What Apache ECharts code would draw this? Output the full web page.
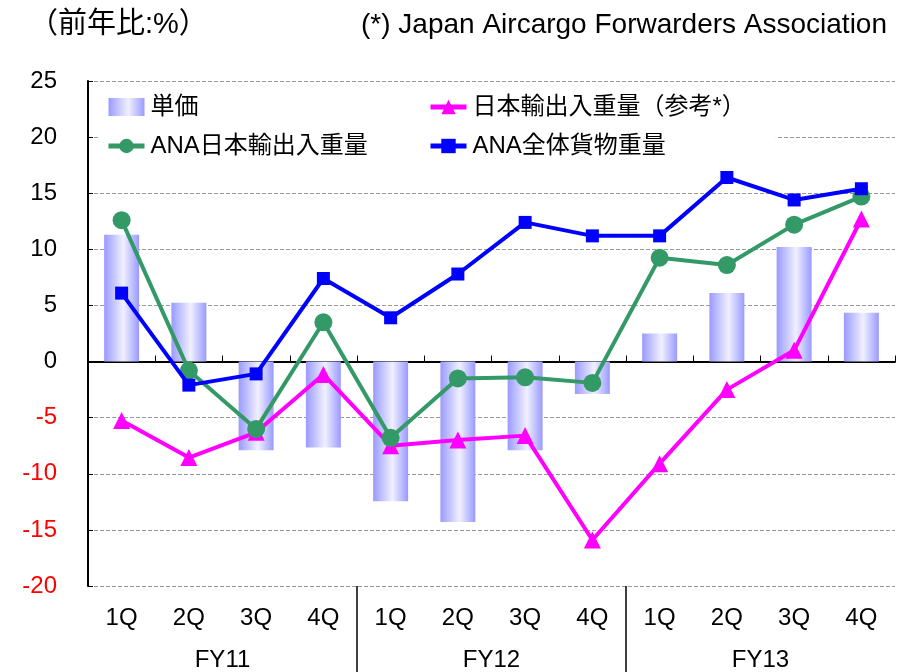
<!DOCTYPE html>
<html>
<head>
<meta charset="utf-8">
<script src="https://cdn.jsdelivr.net/npm/echarts@6/dist/echarts.min.js"></script>
<style>
html, body { margin: 0; padding: 0; background: #fff; }
#main { width: 908px; height: 672px; }
</style>
</head>
<body>
<div id="main"></div>
<script>
let quarters = ['1Q', '2Q', '3Q', '4Q', '1Q', '2Q', '3Q', '4Q', '1Q', '2Q', '3Q', '4Q'];
let years = ['FY11', 'FY12', 'FY13'];
// boundaries between fiscal years, only used for the separator ticks
let yearEdges = ['start', 'FY11|FY12', 'FY12|FY13', 'end'];
let unitPrice = [11.3, 5.25, -7.9, -7.65, -12.45, -14.3, -7.9, -2.9, 2.5, 6.1, 10.2, 4.35];
let japanWeight = [-5.25, -8.55, -6.3, -1.15, -7.5, -7.0, -6.6, -15.9, -9.1, -2.5, 1.0, 12.7];
let anaJapanWeight = [12.6, -0.8, -6.0, 3.5, -6.8, -1.5, -1.4, -1.9, 9.25, 8.6, 12.2, 14.7];
let anaTotalWeight = [6.1, -2.1, -1.1, 7.4, 3.9, 7.8, 12.4, 11.2, 11.2, 16.4, 14.4, 15.4];

let font = '"Liberation Sans", Arial, "Noto Sans CJK JP", sans-serif';
let myChart = echarts.init(document.getElementById('main'));

let barColor = new echarts.graphic.LinearGradient(0, 0, 1, 0, [
    { offset: 0, color: '#9a9aff' },
    { offset: 0.55, color: '#f0f0ff' },
    { offset: 1, color: '#9a9aff' }
]);

let legendBase = {
    orient: 'vertical',
    top: 91,
    itemGap: 15,
    itemWidth: 36, itemHeight: 18,
    backgroundColor: '#fff',
    lineStyle: { width: 5 },
    textStyle: { fontSize: 24, color: '#000', fontFamily: font, padding: [0, 0, 0, 1] }
};

let option = {
    animation: false,
    textStyle: { fontFamily: font },
    title: [
        {
            text: '（前年比:%）',
            left: 24, top: 5,
            textStyle: { fontSize: 29, fontWeight: 'normal', color: '#000', fontFamily: font }
        },
        {
            text: '(*) Japan Aircargo Forwarders Association',
            right: 16, top: 6,
            textStyle: { fontSize: 28, fontWeight: 'normal', color: '#000', fontFamily: font }
        }
    ],
    legend: [
        Object.assign({}, legendBase, {
            left: 100,
            padding: [4, 60, 4, 6],
            data: [
                { name: '単価', icon: 'rect', itemStyle: { color: barColor } },
                { name: 'ANA日本輸出入重量' }
            ]
        }),
        Object.assign({}, legendBase, {
            left: 420,
            padding: [4, 30, 4, 8],
            data: ['日本輸出入重量（参考*）', 'ANA全体貨物重量']
        })
    ],
    grid: { left: 88, right: 13, top: 81, bottom: 85, containLabel: false },
    xAxis: [
        {
            type: 'category',
            data: quarters,
            axisLine: { onZero: true, lineStyle: { color: '#000', width: 2 } },
            axisTick: { show: true, inside: true, length: 6, lineStyle: { color: '#000' } },
            axisLabel: { show: false }
        },
        {
            type: 'category',
            data: quarters,
            position: 'bottom',
            axisLine: { show: false, onZero: false },
            axisTick: { show: false },
            axisLabel: { fontSize: 24, color: '#000', margin: 20, fontFamily: font }
        },
        {
            type: 'category',
            data: years,
            position: 'bottom',
            axisLine: { show: false, onZero: false },
            axisTick: { show: false },
            axisLabel: { fontSize: 24, color: '#000', margin: 62, fontFamily: font }
        },
        {
            type: 'category',
            data: yearEdges,
            boundaryGap: false,
            position: 'bottom',
            axisLine: { show: false, onZero: false },
            axisTick: {
                show: true, length: 90,
                interval: function (index) { return index === 1 || index === 2; },
                lineStyle: { color: '#000', width: 1.5 }
            },
            axisLabel: { show: false }
        }
    ],
    yAxis: {
        type: 'value',
        min: -20, max: 25, interval: 5,
        axisLine: { show: true, lineStyle: { color: '#000', width: 2 } },
        axisTick: { show: true, inside: true, length: 5, lineStyle: { color: '#000' } },
        axisLabel: {
            fontSize: 24, margin: 31, fontFamily: font,
            color: function (v) { return v < 0 ? '#ff0000' : '#000'; }
        },
        splitLine: { lineStyle: { color: '#999', type: [4, 2], width: 1 } }
    },
    series: [
        {
            name: '単価',
            type: 'bar',
            data: unitPrice,
            barWidth: '52%',
            itemStyle: { color: barColor },
            z: 1
        },
        {
            name: '日本輸出入重量（参考*）',
            type: 'line',
            data: japanWeight,
            symbol: 'triangle',
            symbolSize: 17,
            lineStyle: { color: '#ff00ff', width: 4 },
            itemStyle: { color: '#ff00ff' },
            z: 3
        },
        {
            name: 'ANA日本輸出入重量',
            type: 'line',
            data: anaJapanWeight,
            symbol: 'circle',
            symbolSize: 18,
            lineStyle: { color: '#339966', width: 4 },
            itemStyle: { color: '#339966' },
            z: 4
        },
        {
            name: 'ANA全体貨物重量',
            type: 'line',
            data: anaTotalWeight,
            symbol: 'rect',
            symbolSize: 13,
            lineStyle: { color: '#0000ff', width: 4 },
            itemStyle: { color: '#0000ff' },
            z: 5
        }
    ]
};

myChart.setOption(option);
</script>
</body>
</html>
